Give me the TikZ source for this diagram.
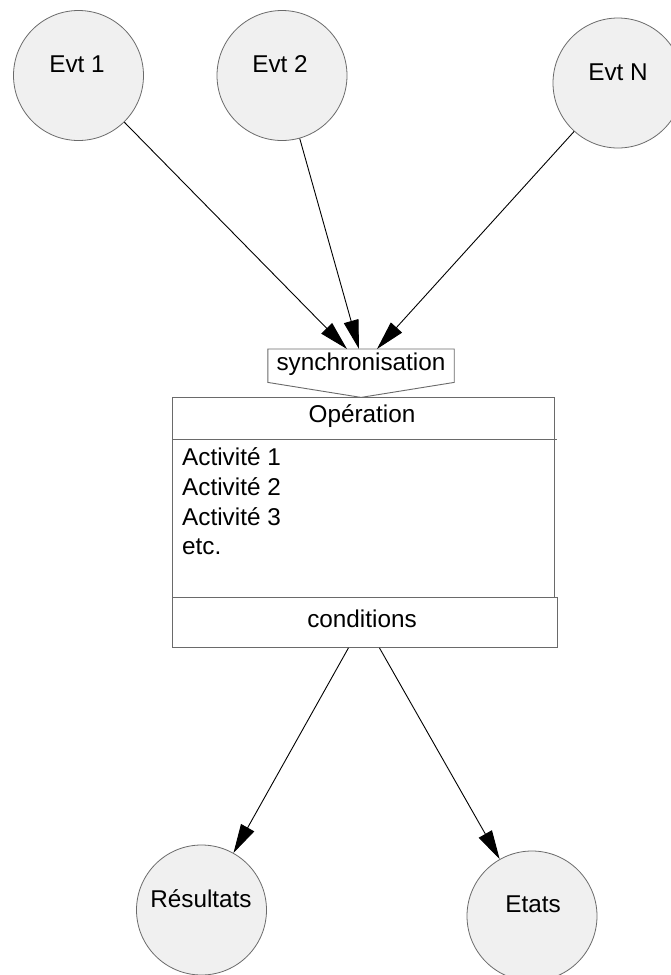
\documentclass[tikz,border=0pt]{standalone}
\usepackage{fontspec}
\setmainfont{Liberation Sans}
\usetikzlibrary{arrows.meta,calc}
\definecolor{fillc}{HTML}{F0F0F0}
\definecolor{edgec}{HTML}{6A6A6A}
\begin{document}
\begin{tikzpicture}[x=1pt,y=-1pt,
  evt/.style={circle,draw=edgec,fill=fillc,line width=0.8pt,minimum size=130pt,inner sep=0pt},
  txt/.style={anchor=base,inner sep=0pt,font=\fontsize{24.3}{29}\selectfont},
  txtl/.style={txt,anchor=base west},
  arr/.style={line width=0.9pt,-{Triangle[length=29pt,width=15pt]}},
  boxline/.style={draw=edgec,line width=0.9pt}]
\clip (0,0) rectangle (671,975);
\fill[white] (0,0) rectangle (671,975);
% event circles
\node[evt] (e1) at (78.5,75.5) {};
\node[txt] (e1t) at (77,72) {Evt 1};
\node[evt] (e2) at (282,75.5) {};
\node[txt] (e2t) at (280,72) {Evt 2};
\node[evt] (eN) at (618,83) {};
\node[txt] (eNt) at (618,80) {Evt N};
% synchronisation
\node[minimum width=186pt,minimum height=33pt,inner sep=0pt,anchor=north] (sync) at (361,349) {};
\draw[boxline] (sync.north west) -- (sync.north east) -- (sync.south east)
  -- ($(sync.south)+(0,15)$) -- (sync.south west) -- cycle;
\node[txt] (synct) at (361,370) {synchronisation};
% operation box
\node[boxline,minimum width=382pt,minimum height=200pt,inner sep=0pt,anchor=north west] (op) at (172,397) {};
\draw[boxline] ($(op.north west)+(0,42)$) -- ++(385,0);
\node[txt] (opt) at (362,422) {Opération};
\node[txtl] (a1) at (182,465) {Activité 1};
\node[txtl] (a2) at (182,495) {Activité 2};
\node[txtl] (a3) at (182,525) {Activité 3};
\node[txtl] (a4) at (182,554) {etc.};
\node[boxline,minimum width=385pt,minimum height=50pt,inner sep=0pt,anchor=north west] (cond) at (172,597) {};
\node[txt] (condt) at (362,627) {conditions};
% result circles
\node[evt] (res) at (201.5,910) {};
\node[txt] (rest) at (201,907) {Résultats};
\node[evt] (eta) at (532,916) {};
\node[txt] (etat) at (533,912) {Etats};
% connectors
\coordinate (t1) at ($(sync.north)+(-14,0)$);
\coordinate (t2) at ($(sync.north)+(-2,0)$);
\coordinate (t3) at ($(sync.north)+(16,0)$);
\draw[arr] (e1) -- (t1);
\draw[arr] (e2) -- (t2);
\draw[arr] (eN) -- (t3);
\coordinate (c1) at ($(cond.south)+(-16.5,0)$);
\coordinate (c2) at ($(cond.south)+(14.5,0)$);
\draw[arr] (c1) -- (res);
\draw[arr] (c2) -- (eta);
\end{tikzpicture}
\end{document}
